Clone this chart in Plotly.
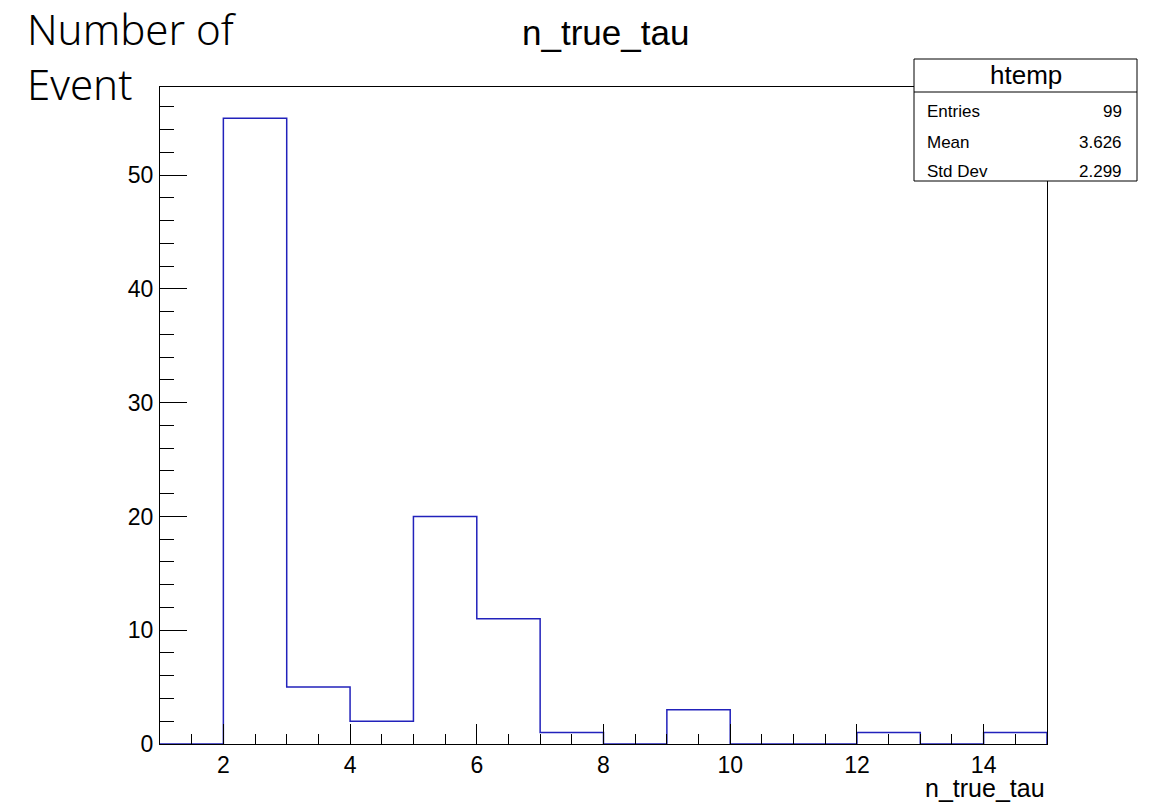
import plotly.graph_objects as go

# ---- data ----
bin_low_edges = [1, 2, 3, 4, 5, 6, 7, 8, 9, 10, 11, 12, 13, 14]
bin_width = 1
counts = [0, 55, 5, 2, 20, 11, 1, 0, 3, 0, 0, 1, 0, 1]
hist_name = "htemp"
stat_labels = ["Entries", "Mean", "Std Dev"]
stat_values = ["99", "3.626", "2.299"]
title_text = "n_true_tau"
x_title = "n_true_tau"
y_title_lines = ["Number of", "Event"]

# ---- layout geometry (page pixels; the page body adds an 8px offset) ----
OFF = 8
W, H = 1151 - OFF, 804 - OFF
FX0, FX1, FY0, FY1 = 160, 1047, 87, 744  # frame in page pixels
L = FX0 - OFF
T = FY0 - OFF
R = W - (FX1 - OFF)
B = H - (FY1 - OFF)
PW, PH = W - L - R, H - T - B


def px(xp):
    return (xp - OFF - L) / PW


def py(yp):
    return (H - B - (yp - OFF)) / PH


FONT = "Liberation Sans, Arial, Helvetica, sans-serif"
BLUE = "#2222bb"

step_x = bin_low_edges + [bin_low_edges[-1] + bin_width]
step_y = counts + [0]

fig = go.Figure()
fig.add_trace(go.Scatter(
    x=step_x, y=step_y, mode="lines", line=dict(shape="hv", color=BLUE, width=1.5),
    hoverinfo="skip", showlegend=False, cliponaxis=True,
))

fig.update_layout(
    width=W, height=H,
    margin=dict(l=L, r=R, t=T, b=B, pad=0),
    paper_bgcolor="white", plot_bgcolor="white",
    font=dict(family=FONT, color="black"),
    showlegend=False,
)

fig.update_xaxes(
    range=[1, 15], showgrid=False, zeroline=False,
    showline=True, mirror=True, linecolor="black", linewidth=1,
    ticks="inside", tickcolor="black", ticklen=20, tickwidth=1,
    tick0=0, dtick=2, tickfont=dict(size=23, family=FONT),
    minor=dict(ticks="inside", dtick=0.5, ticklen=10, tickcolor="black", tickwidth=1),
    ticklabelstandoff=0,
)
fig.update_yaxes(
    range=[0, 57.75], showgrid=False, zeroline=False,
    showline=True, mirror=True, linecolor="black", linewidth=1,
    ticks="inside", tickcolor="black", ticklen=27, tickwidth=1,
    tick0=0, dtick=10, tickfont=dict(size=23, family=FONT),
    minor=dict(ticks="inside", dtick=2, ticklen=13.5, tickcolor="black", tickwidth=1),
    ticklabelstandoff=1,
)

ann = []
# title
ann.append(dict(x=px(605), y=py(33), xref="paper", yref="paper", text=title_text,
                showarrow=False, xanchor="center", yanchor="middle",
                font=dict(size=35, family=FONT)))
# x axis title
ann.append(dict(x=px(1047), y=py(788), xref="paper", yref="paper", text=x_title,
                showarrow=False, xanchor="right", yanchor="middle",
                font=dict(size=25, family=FONT)))
# y axis title (two lines, one text block)
ann.append(dict(x=px(25), y=py(56), xref="paper", yref="paper",
                text="<br>".join(y_title_lines),
                showarrow=False, xanchor="left", yanchor="middle", align="left",
                font=dict(size=42, family="Noto Sans", weight=300)))

# stats box
bx0, bx1, by0, by1, bdiv = 914, 1137, 59, 181, 92
shapes = [
    dict(type="rect", xref="paper", yref="paper", x0=px(bx0), x1=px(bx1), y0=py(by1), y1=py(by0),
         fillcolor="white", line=dict(color="black", width=1), layer="above"),
    dict(type="line", xref="paper", yref="paper", x0=px(bx0), x1=px(bx1), y0=py(bdiv), y1=py(bdiv),
         line=dict(color="black", width=1), layer="above"),
]
ann.append(dict(x=px((bx0 + bx1) / 2), y=py(75), xref="paper", yref="paper", text=hist_name,
                showarrow=False, xanchor="center", yanchor="middle",
                font=dict(size=26, family=FONT)))
row_y = [111, 142, 171]
for lab, val, yc in zip(stat_labels, stat_values, row_y):
    ann.append(dict(x=px(925), y=py(yc), xref="paper", yref="paper", text=lab,
                    showarrow=False, xanchor="left", yanchor="middle",
                    font=dict(size=17, family=FONT)))
    ann.append(dict(x=px(1124), y=py(yc), xref="paper", yref="paper", text=val,
                    showarrow=False, xanchor="right", yanchor="middle",
                    font=dict(size=17, family=FONT)))

fig.update_layout(annotations=ann, shapes=shapes)
fig.write_html("out.html")
